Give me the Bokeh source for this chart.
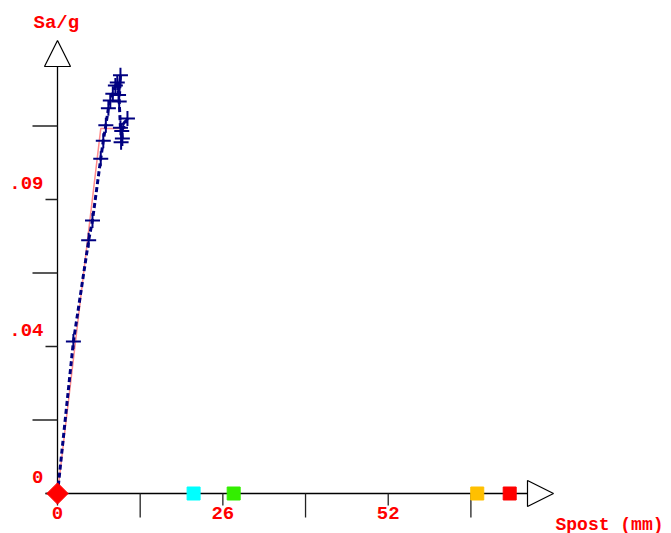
import numpy as np
from bokeh.plotting import figure
from bokeh.models import Range1d, Arrow, NormalHead, ColumnDataSource
from bokeh.core.properties import value
from bokeh.embed import file_html
from bokeh.resources import INLINE

# ---------------- data ----------------
disp_mm = [0.0, 2.5, 4.9, 5.5, 6.8, 7.2, 7.6, 8.0, 8.3, 8.7, 9.1, 9.4, 9.6, 9.9, 9.7, 9.9, 11.0, 10.1, 10.2, 10.0]
sa_g = [0.0, 0.0465, 0.0775, 0.0836, 0.1025, 0.108, 0.1127, 0.1179, 0.1203, 0.1224, 0.1249, 0.1258,
        0.1220, 0.1280, 0.1200, 0.1120, 0.1148, 0.1110, 0.1087, 0.1075]
bilinear_disp = [0.0, 6.8, 10.7]
bilinear_sa = [0.0, 0.1117, 0.1117]
state_disp = [21.4, 27.7, 66.0, 71.1]
state_colors = ["#00FFFF", "#33EE00", "#FFC000", "#FF0000"]
x_ticks = [0, 13, 26, 39, 52, 65]
x_tick_labels = ["0", "", "26", "", "52", ""]
y_ticks = [0.0, 0.0225, 0.045, 0.0675, 0.09, 0.1125]
y_tick_labels = ["0", "", ".04", "", ".09", ""]
x_title = "Spost (mm)"
y_title = "Sa/g"

# ---------------- layout ----------------
W, H = 671, 533
OX, OY = 57, 493           # origin in canvas px
XS = 6.36                  # px per mm
YS = 73.5 / 0.0225         # px per g

def dx(px):
    return px / XS

def dy(px):
    return px / YS

p = figure(width=W, height=H, output_backend="svg", toolbar_location=None,
           x_range=Range1d(-OX / XS, (W - OX) / XS),
           y_range=Range1d(-(H - OY) / YS, OY / YS),
           min_border=0, x_axis_location=None, y_axis_location=None)
p.grid.visible = False
p.outline_line_color = None
p.background_fill_color = "white"
p.border_fill_color = "white"

FONT = value("Liberation Mono")
RED = "#FF0000"

# axes lines with arrows
x_end = dx(496)
y_end = dy(453)
p.segment(x0=[dx(-12)], y0=[0], x1=[x_end - dx(25)], y1=[0], line_color="black", line_width=1.3)
p.segment(x0=[0], y0=[0], x1=[0], y1=[y_end - dy(26)], line_color="black", line_width=1.3)
p.add_layout(Arrow(end=NormalHead(size=26, fill_color="white", line_color="black", line_width=1.2),
                   x_start=x_end - dx(26), y_start=0, x_end=x_end, y_end=0, line_color="black", line_alpha=0))
p.add_layout(Arrow(end=NormalHead(size=26, fill_color="white", line_color="black", line_width=1.2),
                   x_start=0, y_start=y_end - dy(26), x_end=0, y_end=y_end, line_color="black", line_alpha=0))

# ticks
xt_len = [dy(12) if lab else dy(24) for lab in x_tick_labels]
p.segment(x0=x_ticks, y0=[0] * len(x_ticks), x1=x_ticks, y1=[-l for l in xt_len],
          line_color="#222222", line_width=1.3)
yt_len = [dx(12) if lab else dx(25) for lab in y_tick_labels]
p.segment(x0=[-l for l in yt_len], y0=y_ticks, x1=[0] * len(y_ticks), y1=y_ticks,
          line_color="#222222", line_width=1.3)

# tick labels
p.text(x=x_ticks, y=[0] * len(x_ticks), text=x_tick_labels, text_font=FONT, text_font_style="bold",
       text_font_size="19px", text_color=RED, text_align="center", text_baseline="middle", y_offset=19)
p.text(x=[dx(-14)] * len(y_ticks), y=y_ticks, text=y_tick_labels, text_font=FONT, text_font_style="bold",
       text_font_size="19px", text_color=RED, text_align="right", text_baseline="middle", y_offset=-17)

# axis titles
p.text(x=[dx(-24)], y=[dy(471)], text=[y_title], text_font=FONT, text_font_style="bold",
       text_font_size="19px", text_color=RED, text_align="left", text_baseline="middle")
p.text(x=[dx(498)], y=[dy(-31)], text=[x_title], text_font=FONT, text_font_style="bold",
       text_font_size="18px", text_color=RED, text_align="left", text_baseline="middle")

# bilinear curve
p.line(bilinear_disp, bilinear_sa, line_color="#FF8C8C", line_width=1.5)
# capacity curve
src = ColumnDataSource(dict(x=disp_mm, y=sa_g))
p.line("x", "y", source=src, line_color="#000080", line_width=3, line_dash="5 3")
p.scatter("x", "y", source=src, marker="cross", size=15, line_color="#000080", line_width=2)

# limit state markers
p.scatter(x=state_disp, y=[0] * len(state_disp), marker="square", size=13,
          fill_color=state_colors, line_color=state_colors)
p.scatter(x=[0], y=[0], marker="square", angle=np.pi / 4, size=15, fill_color=RED, line_color=RED)

open("out.html", "w").write(file_html(p, INLINE))
